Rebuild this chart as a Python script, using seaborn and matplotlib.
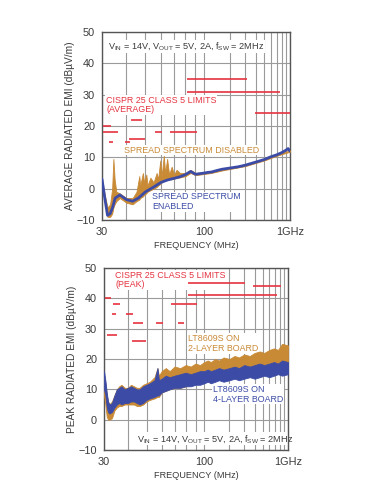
import numpy as np
import matplotlib
matplotlib.use("Agg")
import matplotlib.pyplot as plt
import seaborn as sns

# ---- data ----
# top panel: average radiated EMI
top_blue_freq = [30, 31, 32, 33, 34, 35, 37, 40, 43, 46, 50, 55, 60, 65, 70, 75, 80, 85, 90,
                 100, 110, 120, 140, 160, 200, 250, 300, 400, 500, 600, 700, 800, 900, 950, 1000]
top_blue_val = [3, -3, -8.5, -8, -6, -3, -2, -3.5, -4, -3, -1, 0.5, 2, 2.8, 3.3, 3.8, 4.5, 5.5, 4.6,
                5.0, 5.2, 5.3, 5.8, 6.2, 6.6, 7.0, 7.5, 8.5, 9.3, 10.2, 10.8, 11.5, 12.3, 12.8, 12.0]

top_orange_freq = [30, 31, 32, 33, 33.8, 34.3, 34.8, 35.5, 37, 40, 43, 45, 46.5, 47, 48.5, 49.2,
                   50.5, 51.2, 53, 55, 57, 58, 59.5, 60.5, 62, 63, 64.5, 66, 68, 70, 72, 75, 80,
                   85, 90, 100, 120, 160, 200, 300, 500, 700, 1000]
top_orange_hi = [3, -2, -6, -5, 0, 9.5, 3, -1, -1.5, -3, -3, -1, 4, 1, 5, 2, 4.5, 1, 3.5, 2, 5, 3,
                 9, 4, 10.5, 5, 9.5, 4.5, 7, 4.5, 6, 5, 5, 6, 5, 5.3, 5.6, 6.4, 6.8, 7.7, 9.5, 11, 12.2]
top_orange_lo = [2, -4, -9, -9, -8, -6, -5, -4, -3, -4.5, -5, -4, -3.5, -3, -2.5, -2, -1.5, -1,
                 -0.5, 0, 0.5, 1, 1.5, 2, 2.5, 2.5, 3, 3, 3, 3.2, 3.4, 3.6, 4, 5, 4.3, 4.7, 5,
                 5.8, 6.3, 7.2, 9, 10.5, 11.8]

avg_limit_level = [35, 31, 24, 22, 20, 18, 18, 18, 16, 15, 15]
avg_limit_start = [81, 81, 390, 42, 30.4, 30.4, 56, 66.7, 41.2, 32.6, 39.3]
avg_limit_stop = [314, 764, 1000, 47.8, 33.5, 36.2, 60.7, 91.5, 49.7, 34.1, 41.7]

# bottom panel: peak radiated EMI
bot_freq = [30, 30.5, 31, 31.5, 32, 33, 34, 35, 36, 37, 38.5, 40, 41.5, 43, 44.5, 46, 48, 50,
            52, 55, 57, 58, 60, 63, 66, 70, 75, 80, 85, 90, 95, 100, 110, 120, 135, 150, 170,
            200, 230, 260, 300, 350, 400, 460, 520, 600, 680, 760, 850, 1000]
bot_blue_lo = [10, 8, 4, 2.5, 2, 2.5, 4, 5, 5.5, 5, 5.5, 5.5, 6, 6, 5.5, 5, 5.5, 6.5, 7, 7.5,
               8, 8, 9, 9.5, 10, 10.5, 10.5, 11, 11, 11.5, 11.5, 12, 12.5, 12, 12.5, 13, 12.5,
               13, 13.5, 13, 13.5, 14, 13.5, 14, 14.5, 14, 14.5, 15, 14.5, 15]
bot_blue_hi = [16, 13, 9, 6, 5, 5.5, 8, 10, 10.5, 11, 10, 10.5, 11, 10.5, 10, 10, 11, 11.5, 12,
               13, 17, 13, 13.5, 14.5, 14, 14.5, 15, 15.5, 15, 15.5, 16, 16, 16.5, 16, 16.5, 17,
               16.5, 17, 17.5, 17, 18, 17.5, 18, 18.5, 18, 18.5, 19, 18.5, 19.5, 19]
bot_orange_lo = [8, 5, 1, 0, 0, 0.5, 3, 4, 4.5, 4.5, 5, 5, 5, 5, 4.5, 4.5, 5, 6, 6.5, 7, 7.5,
                 7.5, 9, 9.5, 10, 10.5, 10.5, 11, 11.5, 12, 12, 12.5, 13, 13, 13.5, 14, 14, 14.5,
                 15, 15, 15.5, 16, 16, 16.5, 17, 17, 17.5, 18, 18.5, 19]
bot_orange_hi = [14, 12, 8, 6, 5, 6, 8, 10, 11, 11.5, 10.5, 10.5, 11.5, 11, 10.5, 10.5, 11.5,
                 12, 12.5, 14, 17, 14.5, 16, 17, 16, 17.5, 17, 18, 17.5, 18.5, 18, 19, 19.5, 19,
                 20, 19.5, 20.5, 20, 21, 20.5, 21.5, 21, 22, 22.5, 22, 23, 23.5, 23, 25, 24.5]

peak_limit_level = [45, 44, 41, 40, 38, 38, 35, 35, 32, 32, 32, 28, 26]
peak_limit_start = [82.3, 382, 82.3, 30.4, 33.4, 67, 33.0, 39, 42.5, 56, 72.9, 31.1, 42]
peak_limit_stop = [306, 825, 738, 32.5, 36.4, 91.5, 34.6, 42.5, 47.9, 60.9, 78.4, 35.1, 49.7]

RED = "#e5323f"
ORANGE = "#c98a36"
BLUE = "#3c4ca6"
TXT = "#3a3a3a"
GRID = "#9a9a9a"

# frequency axis: 30-100 MHz and 100-1000 MHz drawn as two log pieces
SPLIT = 0.545
L30 = np.log10(30.0)


def fwd(f):
    lf = np.log10(np.clip(np.asarray(f, float), 1e-6, None))
    lo = (lf - L30) / (2 - L30) * SPLIT
    hi = SPLIT + (lf - 2) * (1 - SPLIT)
    return np.where(lf <= 2, lo, hi)


def inv(u):
    u = np.asarray(u, float)
    lo = 10 ** (L30 + u / SPLIT * (2 - L30))
    hi = 10 ** (2 + (u - SPLIT) / (1 - SPLIT))
    return np.where(u <= SPLIT, lo, hi)


sns.set_style("white")
plt.rcParams["font.family"] = ["Liberation Sans", "DejaVu Sans"]
plt.rcParams["mathtext.default"] = "regular"

fig = plt.figure(figsize=(3.92, 4.8), dpi=100)
ax1 = fig.add_axes([102 / 392, 1 - 220 / 480, 188 / 392, 188 / 480])
ax2 = fig.add_axes([104 / 392, 1 - 450 / 480, 184 / 392, 182 / 480])


def style_axes(ax, ylabel):
    ax.set_xscale("function", functions=(fwd, inv))
    ax.set_xlim(30, 1000)
    ax.set_ylim(-10, 50)
    ax.set_xticks([30, 100, 1000])
    ax.set_xticklabels(["30", "100", "1GHz"])
    ax.set_xticks([40, 50, 60, 70, 80, 90, 200, 300, 400, 500, 600, 700, 800, 900], minor=True)
    ax.set_yticks(range(-10, 51, 10))
    ax.grid(True, which="both", axis="x", color=GRID, lw=0.8)
    ax.grid(True, which="major", axis="y", color=GRID, lw=0.8)
    ax.tick_params(which="both", length=0, labelsize=7.8, labelcolor=TXT, pad=5)
    for s in ax.spines.values():
        s.set_color("#555555")
        s.set_linewidth(1.0)
    ax.set_xlabel("FREQUENCY (MHz)", fontsize=6.6, color=TXT, labelpad=3)
    ax.set_ylabel(ylabel, fontsize=7.3, color=TXT, labelpad=1)
    ax.set_axisbelow(True)


style_axes(ax1, "AVERAGE RADIATED EMI (dBµV/m)")
style_axes(ax2, "PEAK RADIATED EMI (dBµV/m)")

box = dict(facecolor="white", edgecolor="none", pad=0.5)
FS = 6.4
COND = r"$V_{IN}$ = 14V, $V_{OUT}$ = 5V, 2A, $f_{SW}$ = 2MHz"

# top panel
ax1.hlines(avg_limit_level, avg_limit_start, avg_limit_stop, color=RED, lw=1.2, zorder=3)
ax1.fill_between(top_orange_freq, top_orange_lo, top_orange_hi, color=ORANGE, lw=0.6,
                 edgecolor=ORANGE, zorder=4)
sns.lineplot(x=top_blue_freq, y=top_blue_val, ax=ax1, color=BLUE, lw=2.0, zorder=5)

ax1.text(0.03, 0.955, COND, transform=ax1.transAxes,
         fontsize=6.6, color=TXT, va="top", ha="left", bbox=box, zorder=2.5)
ax1.text(0.022, 0.66, "CISPR 25 CLASS 5 LIMITS\n(AVERAGE)", transform=ax1.transAxes,
         fontsize=FS, color=RED, va="top", ha="left", linespacing=1.05, bbox=box, zorder=2.5)
ax1.text(0.115, 0.372, "SPREAD SPECTRUM DISABLED", transform=ax1.transAxes,
         fontsize=FS, color=ORANGE, va="center", ha="left", bbox=box, zorder=2.5)
ax1.text(0.265, 0.097, "SPREAD SPECTRUM\nENABLED", transform=ax1.transAxes,
         fontsize=FS, color=BLUE, va="center", ha="left", linespacing=1.15, bbox=box, zorder=2.5)

# bottom panel
ax2.hlines(peak_limit_level, peak_limit_start, peak_limit_stop, color=RED, lw=1.2, zorder=3)
ax2.fill_between(bot_freq, bot_orange_lo, bot_orange_hi, color=ORANGE, lw=0.6,
                 edgecolor=ORANGE, zorder=4)
ax2.fill_between(bot_freq, bot_blue_lo, bot_blue_hi, color=BLUE, lw=0.6,
                 edgecolor=BLUE, zorder=5)

ax2.text(0.06, 0.985, "CISPR 25 CLASS 5 LIMITS\n(PEAK)", transform=ax2.transAxes,
         fontsize=FS, color=RED, va="top", ha="left", linespacing=1.05, bbox=box, zorder=2.5)
ax2.text(0.455, 0.585, "LT8609S ON\n2-LAYER BOARD", transform=ax2.transAxes,
         fontsize=FS, color=ORANGE, va="center", ha="left", linespacing=1.15, bbox=box, zorder=2.5)
ax2.text(0.59, 0.307, "LT8609S ON\n4-LAYER BOARD", transform=ax2.transAxes,
         fontsize=FS, color=BLUE, va="center", ha="left", linespacing=1.15, bbox=box, zorder=2.5)
ax2.text(0.18, 0.063, COND, transform=ax2.transAxes,
         fontsize=6.6, color=TXT, va="center", ha="left", bbox=box, zorder=2.5)

fig.savefig("out.png", dpi=100)
